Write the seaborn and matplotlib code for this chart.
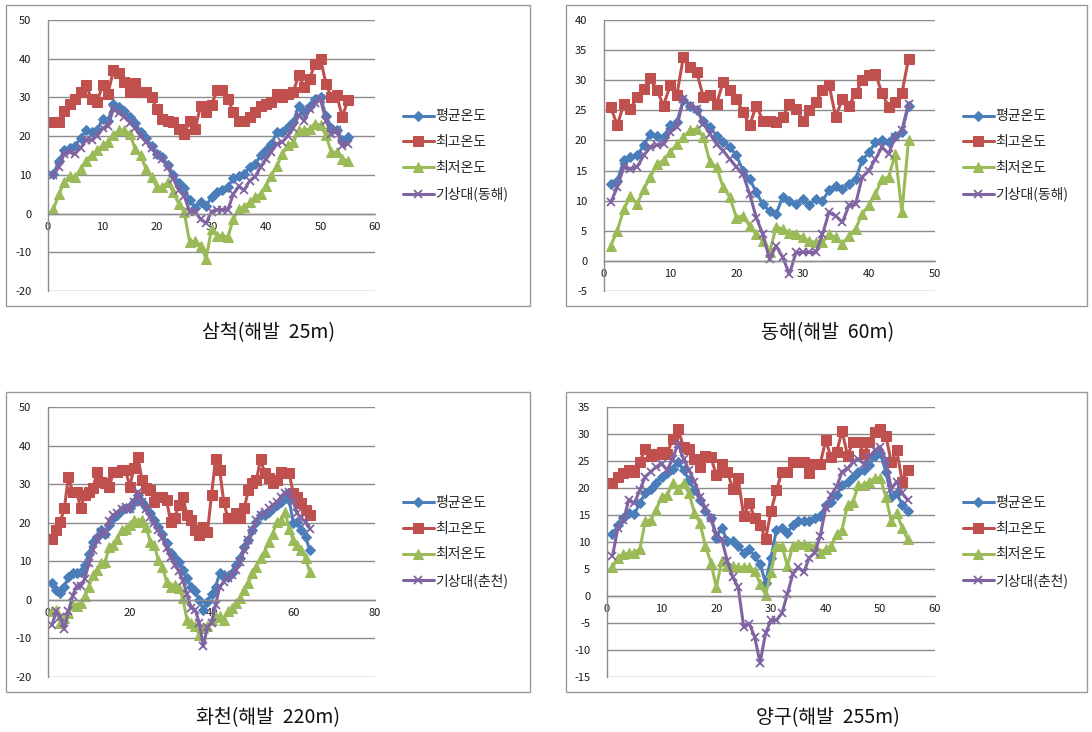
import numpy as np
import pandas as pd
import matplotlib
matplotlib.use("Agg")
import matplotlib.pyplot as plt
from matplotlib.patches import Rectangle
import seaborn as sns

# ---------------- data ----------------
series_names = ["평균온도", "최고온도", "최저온도"]
captions = ["삼척(해발  25m)", "동해(해발  60m)", "화천(해발  220m)", "양구(해발  255m)"]
station_names = ["기상대(동해)", "기상대(동해)", "기상대(춘천)", "기상대(춘천)"]

# 삼척
avg1 = [10.3, 13.5, 16.5, 17, 17.5, 19.5, 21.5, 21, 21.5, 24.5, 24, 28.2, 27.5, 26.5, 25, 23.5, 21, 19.5, 17.5, 15.5,
        14.5, 12.5, 10, 8, 6.5, 3.5, 1.5, 3, 2, 4.2, 5.5, 6, 6.8, 9.2, 9.8, 10.3, 12, 12.8, 15, 16.3,
        18, 21, 21, 22.3, 23.6, 27.9, 26.2, 27.9, 29.7, 30, 25.3, 22.2, 21.5, 18.9, 19.7]
max1 = [23.6, 23.6, 26.6, 28.3, 29.6, 31.4, 33.1, 29.6, 28.8, 33.1, 31, 37, 36.2, 34, 31.4, 33.6, 31.4, 31.4, 30, 27,
        24.5, 24, 23.6, 21.9, 20.6, 24, 21.9, 27.9, 26.2, 28, 31.8, 31.8, 29.7, 26.2, 24, 24, 24.9, 26.2, 27.9, 28.4,
        28.8, 31, 30, 31, 31.4, 35.7, 32.7, 34.8, 38.7, 40, 33.5, 30, 30.5, 24.9, 29.3]
min1 = [1.2, 5, 8.1, 9.8, 9.4, 11.5, 13.7, 15, 16.3, 17.6, 18.4, 20.2, 21.5, 21.5, 20.6, 16.7, 15, 11.5, 9.4, 6.8,
        6.8, 8.1, 5.5, 2.5, 0.3, -7.4, -7, -8.3, -11.7, -4, -5.7, -5.7, -6.1, -1.4, 1.2, 1.6, 2.9, 4.2, 5, 7.2,
        9.8, 12.4, 15.4, 17.6, 18.4, 21.5, 21.5, 21.9, 23.2, 22.8, 20.2, 15.8, 15.8, 14.1, 13.7]
stn1 = [10, 12, 15.5, 16, 15.5, 17, 19, 19, 20, 22, 22.5, 27, 26, 25, 23.5, 22, 20, 18.5, 17, 15,
        14, 12, 9, 6, 4.5, 0.5, 0.5, -1.5, -2.5, 0.5, 1, 1, 1, 5, 7, 6, 8.5, 9.5, 12, 14,
        16, 18, 18.5, 20, 22, 25.5, 24, 27, 28.5, 29.5, 24, 20.5, 21.5, 17.5, 18]

# 동해
avg2 = [12.8, 13.3, 16.7, 17.2, 17.5, 19.2, 21.1, 20.8, 20.6, 22.5, 23.1, 26.7, 25.8, 25, 23.3, 22.2, 20.8, 19.7, 18.9, 17.5,
        15, 13.6, 11.4, 9.4, 8.3, 7.8, 10.6, 10, 9.4, 10.3, 9.2, 10.3, 10, 11.7, 12.5, 11.9, 12.8, 13.6, 16.7, 18,
        19.7, 20, 19.7, 20.8, 21.4, 25.8]
max2 = [25.6, 22.5, 26.1, 25.3, 27.2, 28.6, 30.3, 28.3, 25.8, 29.2, 27.5, 33.9, 32.2, 31.4, 27.2, 27.5, 26.1, 29.7, 28.3, 26.9,
        24.7, 22.5, 25.8, 23.3, 23.3, 23, 23.9, 26.1, 25.3, 23.3, 25, 26.4, 28.3, 29.2, 23.9, 26.9, 25.8, 27.8, 30, 30.8,
        31.1, 27.8, 25.6, 26.4, 27.8, 33.6]
min2 = [2.5, 5, 8.6, 10.8, 9.4, 11.9, 13.9, 16.1, 16.7, 18, 19.4, 20.6, 21.7, 21.9, 20.6, 16.4, 15.6, 12.2, 10.6, 7.2,
        7.5, 5.8, 4.4, 3.3, 1.4, 5.6, 5.3, 4.7, 4.4, 3.9, 3.3, 3.1, 3.1, 4.4, 3.9, 2.8, 4.2, 5.3, 7.8, 9.2,
        11.1, 13.6, 13.9, 17.8, 8.1, 20]
stn2 = [9.7, 12.2, 15.6, 15.3, 15.6, 17.5, 18.9, 19.2, 19.4, 21.4, 22.2, 26.9, 25.8, 25.3, 22.8, 21.1, 19.4, 18.3, 16.9, 15.6,
        14.4, 11.1, 7.2, 4.4, 0.3, 2.5, 0.6, -2.2, 1.4, 1.4, 1.4, 1.4, 4.4, 8.1, 7.5, 6.4, 9.2, 9.4, 13.9, 15,
        16.9, 18.9, 17.8, 20.6, 21.7, 26.1]

# 화천
avg3 = [4.3, 2.6, 1.7, 3.4, 6, 6.9, 6.9, 7.3, 9, 12, 15.1, 16.4, 18.1, 17.2, 19.4, 21.1, 22, 23.3, 23.7, 23.7,
        25.4, 27.2, 25.4, 24.1, 22.4, 20.7, 19, 17.2, 14.7, 12.1, 10.8, 9.9, 7.8, 5.6, 3.4, 2.2, 0, -2.6, -0.5, 1.5,
        3.4, 6.9, 6.5, 6, 6.9, 9.1, 10.8, 13.8, 15.5, 18.1, 20.2, 22, 22, 22.8, 23.7, 24.6, 25.4, 27.2, 25.9, 20,
        20.2, 18.1, 16.4, 13]
max3 = [15.9, 18.1, 20.3, 23.7, 31.9, 28, 28, 23.7, 27.2, 28, 28.9, 33.2, 30.6, 30.2, 29.3, 33.2, 33.2, 33.6, 33.6, 29.3,
        34.1, 37.1, 31, 28.9, 28.4, 25.4, 26.7, 26.7, 25.9, 20.3, 21.1, 24.6, 26.7, 22, 20.7, 18.1, 16.8, 19, 17.5, 27.2,
        36.6, 33.6, 25.4, 21.1, 21.1, 22.4, 21.1, 23.7, 28.4, 30.2, 31, 36.6, 32.8, 31.5, 30.2, 31, 33.2, 32.8, 32.8, 27.6,
        26.7, 25, 23.3, 22]
min3 = [-3, -2.6, -6, -4.7, -3.4, -1.3, -1.7, -0.9, 0.9, 3.4, 6.5, 7.8, 9.5, 9.9, 13.8, 14.2, 15.9, 18.1, 18.5, 19.4,
        20.7, 20.3, 20.7, 19, 15.1, 14.2, 10.3, 8.6, 4.7, 3.4, 3.9, 3, 0.4, -5.2, -6, -6.9, -9, -7.3, -6.9, -5.2,
        -4.5, -4.3, -5.2, -3, -2.2, -0.9, 0.4, 2.6, 4.3, 6.9, 8.6, 10.8, 12.5, 15.1, 17.2, 20.3, 20.7, 22.8, 18.5, 15.5,
        14.2, 12.9, 10.8, 7.3]
stn3 = [-6.5, -3, -4.5, -7.5, -3, 1, 3.5, 3.5, 5.5, 9.5, 13, 15.5, 17.5, 17, 20.5, 22, 22.5, 23.5, 24, 23.5,
        25.5, 28, 25.5, 23.5, 21.5, 20, 18, 16, 13.5, 11, 9, 7.5, 5, 1.5, -2, -2.5, -6, -12, -7, -6,
        -1.3, 3.4, 4.7, 5.6, 6.5, 7.8, 9.9, 12.9, 15.5, 18.1, 20.7, 22, 22.8, 23.7, 24.6, 25.4, 26.7, 27.6, 28, 25.4,
        22.4, 21.1, 20.3, 18.5]

# 양구
avg4 = [11.4, 13.2, 14.5, 15.4, 15.1, 17.2, 19, 19.9, 20.9, 22.1, 22.7, 23.6, 24.8, 23.3, 21.5, 19.6, 17.8, 15.7, 14.5, 10.8,
        12.6, 10.2, 10.2, 9.3, 8, 8.7, 7.4, 5.9, 2.5, 7.1, 12.3, 12.6, 11.7, 13.2, 13.8, 13.8, 13.8, 14.5, 14.8, 16.9,
        17.5, 18.7, 20.5, 21.2, 22.1, 23, 23.3, 24.2, 26, 26.5, 23, 18.4, 19, 16.9, 15.7]
max4 = [20.9, 22.1, 22.7, 23.3, 23, 24.8, 27.3, 26, 26.3, 26.6, 26.3, 29.1, 30.9, 27.6, 27.3, 25.4, 23.9, 26, 25.7, 22.4,
        24.5, 23, 19.9, 21.8, 14.8, 17.2, 14.5, 13.2, 10.5, 15.7, 19.6, 23, 23, 24.8, 24.8, 24.8, 22.7, 24.5, 24.5, 28.8,
        25.7, 26.6, 30.6, 26, 28.5, 28.5, 26.3, 28.5, 30.3, 30.9, 29.7, 24.8, 27, 21.2, 23.3]
min4 = [5.3, 7.1, 7.7, 8, 8, 8.7, 13.8, 14.1, 16, 18.4, 18.7, 20.9, 19.9, 20.9, 19, 15.4, 13.5, 9.3, 6.2, 1.6,
        6.5, 5.6, 5.6, 5.3, 5.3, 5.3, 4.7, 2.3, 0.2, 4.4, 9.3, 9.3, 5.6, 9.3, 9.6, 9.6, 9.3, 9.3, 8, 8.7,
        9.3, 11.4, 12.3, 16.9, 17.5, 20.5, 20.5, 21.2, 21.8, 21.8, 18.4, 13.8, 15.4, 12.6, 10.5]
stn4 = [7.4, 12.6, 14.1, 17.8, 17.2, 19.6, 22.1, 23, 23.9, 24.5, 23.3, 25.4, 28.2, 25.4, 23.3, 21.2, 18.4, 16.3, 14.5, 11.4,
        10.5, 6.5, 3.5, 1.6, -5.7, -5.1, -7.5, -12.4, -6.9, -4.5, -4.5, -3.2, 0.4, 4.1, 5.3, 4.4, 7.1, 8, 11.1, 16.3,
        18.7, 20.2, 23, 23.6, 24.8, 25.4, 24.5, 25.7, 27, 27.6, 25.1, 19.9, 21.2, 19, 17.8]

x_ticks = [list(range(0, 61, 10)), list(range(0, 51, 10)), list(range(0, 81, 20)), list(range(0, 61, 10))]
y_ticks = [list(range(-20, 51, 10)), list(range(-5, 41, 5)), list(range(-20, 51, 10)), list(range(-15, 36, 5))]

panels = [(avg1, max1, min1, stn1), (avg2, max2, min2, stn2), (avg3, max3, min3, stn3), (avg4, max4, min4, stn4)]

# ---------------- style ----------------
sns.set_theme(style="white")
plt.rcParams['font.family'] = ['Noto Sans CJK KR', 'DejaVu Sans']
plt.rcParams['axes.unicode_minus'] = False

W, H = 1092, 732
fig = plt.figure(figsize=(W / 100, H / 100), dpi=100)
fig.patch.set_facecolor('white')

colors = ['#4A7EBB', '#C0504D', '#9BBB59', '#8064A2']
markers = ['D', 's', '^', 'x']
msizes = [5.5, 7.5, 7, 6]

# axes rectangles in pixels: left, right, top, bottom
ax_px = [(48, 375, 20, 291), (604, 935, 20, 291), (48, 375, 407, 677), (607, 935, 407, 677)]
box_px = [(6, 530, 5, 306), (566, 1087, 5, 306), (6, 530, 392, 692), (566, 1087, 392, 692)]
cap_pos = [(268, 333), (828, 333), (268, 718), (828, 718)]
legend_left_px = [403, 963, 403, 963]

grid_c = '#8C8C8C'

for i in range(4):
    l, r, t, b = ax_px[i]
    ax = fig.add_axes([l / W, 1 - b / H, (r - l) / W, (b - t) / H])
    ax.set_facecolor('white')
    labels = series_names + [station_names[i]]
    for j, ys in enumerate(panels[i]):
        xs = np.arange(1, len(ys) + 1)
        kw = dict(markeredgecolor=colors[j], markerfacecolor=colors[j])
        if markers[j] == 'x':
            kw['markeredgewidth'] = 1.3
        sns.lineplot(x=xs, y=ys, ax=ax, color=colors[j], marker=markers[j], markersize=msizes[j],
                     linewidth=2.2, label=labels[j], sort=False, estimator=None, **kw)
    xt, yt = x_ticks[i], y_ticks[i]
    ax.set_xlim(xt[0], xt[-1])
    ax.set_ylim(yt[0], yt[-1])
    ax.set_xticks(xt)
    ax.set_yticks(yt)
    ax.set_xlabel('')
    ax.set_ylabel('')
    ax.yaxis.grid(True, color=grid_c, linewidth=1.0)
    ax.xaxis.grid(False)
    ax.set_axisbelow(True)
    for s in ['top', 'right']:
        ax.spines[s].set_visible(False)
    ax.spines['left'].set_color(grid_c)
    ax.spines['left'].set_linewidth(1.0)
    ax.spines['bottom'].set_position(('data', 0))
    ax.spines['bottom'].set_color(grid_c)
    ax.spines['bottom'].set_linewidth(1.0)
    ax.tick_params(axis='both', which='both', direction='out', length=4, width=1, color=grid_c,
                   labelsize=8, labelcolor='#1a1a1a', pad=2)
    ax.tick_params(axis='y', pad=8, length=4)
    # legend
    h, lab = ax.get_legend_handles_labels()
    leg_x = (legend_left_px[i] - l) / (r - l)
    ax.legend(h, lab, loc='center left', bbox_to_anchor=(leg_x, 0.5), frameon=False,
              fontsize=10, handlelength=2.2, handletextpad=0.15, labelspacing=0.85,
              borderaxespad=0, borderpad=0)
    # panel box
    bl, br, bt, bb = box_px[i]
    fig.patches.append(Rectangle((bl / W, 1 - bb / H), (br - bl) / W, (bb - bt) / H,
                                 transform=fig.transFigure, fill=False, edgecolor='#9A9A9A',
                                 linewidth=1.0, zorder=0))
    cx, cy = cap_pos[i]
    fig.text(cx / W, 1 - cy / H, captions[i], ha='center', va='center', fontsize=14, color='#111111')

fig.savefig('out.png', dpi=100, facecolor='white')
